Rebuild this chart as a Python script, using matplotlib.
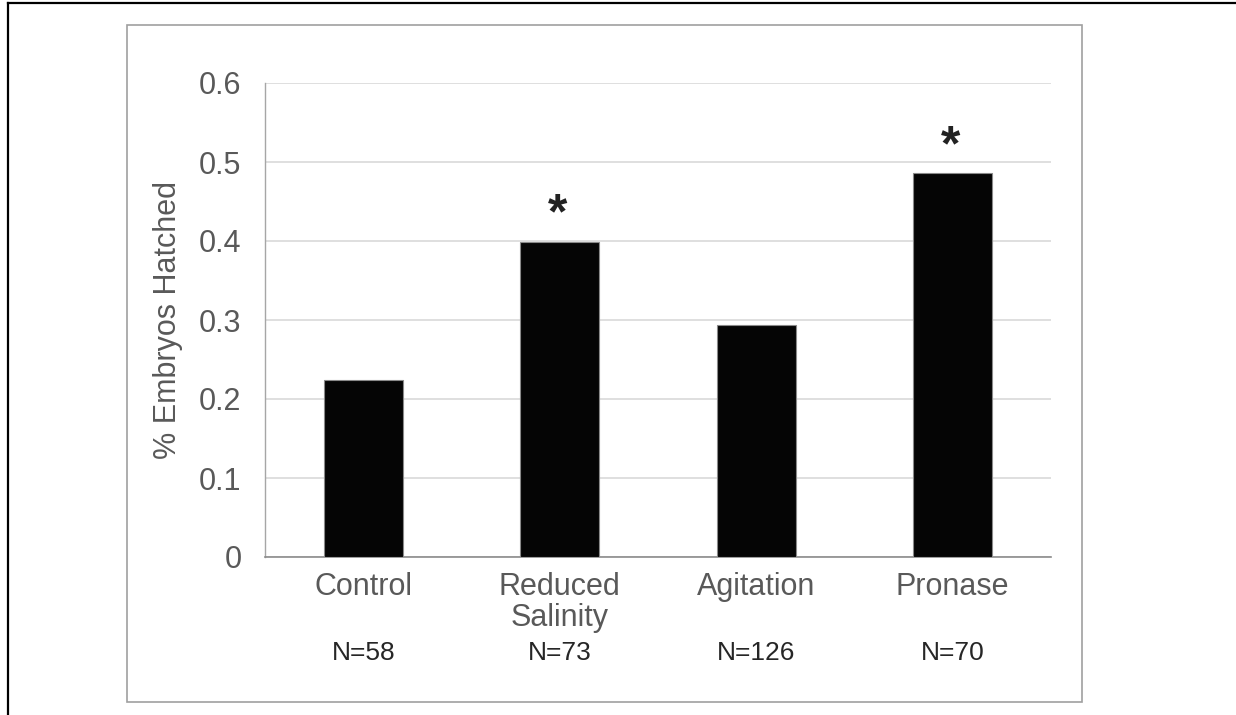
import matplotlib
matplotlib.use('Agg')
import matplotlib.pyplot as plt
from matplotlib.lines import Line2D
from matplotlib.patches import Rectangle
from matplotlib.transforms import blended_transform_factory

plt.rcParams['font.family'] = ['Liberation Sans', 'DejaVu Sans']

# данные
categories = ['Control', 'Reduced\nSalinity', 'Agitation', 'Pronase']
hatched = [0.224, 0.399, 0.294, 0.486]
n_labels = ['N=58', 'N=73', 'N=126', 'N=70']
significant = [False, True, False, True]
yticks = [0, 0.1, 0.2, 0.3, 0.4, 0.5, 0.6]
ytick_labels = ['0', '0.1', '0.2', '0.3', '0.4', '0.5', '0.6']

W, H = 1236, 715
fig = plt.figure(figsize=(W / 100, H / 100), dpi=100)
ax = fig.add_axes([265 / W, 1 - 557 / H, (1051 - 265) / W, (557 - 83) / H])

x = list(range(len(categories)))
ax.bar(x, hatched, width=0.40, color='#050505', edgecolor='#8a8a8a', linewidth=0.8, zorder=3)

ax.set_xlim(-0.5, len(categories) - 0.5)
ax.set_ylim(0, 0.6)
ax.set_yticks(yticks)
ax.set_yticklabels(ytick_labels, fontsize=22, color='#595959')
ax.set_xticks(x)
ax.set_xticklabels(categories, fontsize=22, color='#595959', linespacing=1.05)
ax.tick_params(axis='y', length=0, pad=17)
ax.tick_params(axis='x', length=0, pad=11)

ax.grid(axis='y', color='#d9d9d9', linewidth=1.2, zorder=0)
for s in ['top', 'right']:
    ax.spines[s].set_visible(False)
ax.spines['left'].set_color('#a6a6a6')
ax.spines['bottom'].set_color('#8c8c8c')
ax.spines['left'].set_linewidth(1)
ax.spines['bottom'].set_linewidth(1.2)

ax.set_ylabel('% Embryos Hatched', fontsize=22, color='#595959')
ax.yaxis.set_label_coords(-0.104, 0.5)

# подписи N под категориями
trans = blended_transform_factory(ax.transData, ax.transAxes)
for i, lab in enumerate(n_labels):
    ax.text(i, -0.2025, lab, transform=trans, ha='center', va='center',
            fontsize=19, color='#262626')

# звездочки значимости
for i, (v, sig) in enumerate(zip(hatched, significant)):
    if sig:
        ax.text(i - 0.01, v + 0.033, '*', ha='center', va='center',
                fontsize=36, fontweight='bold', color='#222222')

# серая рамка области диаграммы
fig.add_artist(Rectangle((127 / W, 1 - 702 / H), (1082 - 127) / W, (702 - 25) / H,
                         transform=fig.transFigure, fill=False,
                         edgecolor='#a0a0a0', linewidth=1.2))
# черная внешняя рамка
fig.add_artist(Line2D([8 / W, 8 / W], [0, 1 - 3 / H], transform=fig.transFigure,
                      color='black', linewidth=1.6))
fig.add_artist(Line2D([8 / W, 1], [1 - 3 / H, 1 - 3 / H], transform=fig.transFigure,
                      color='black', linewidth=1.6))

fig.savefig('out.png', dpi=100)
